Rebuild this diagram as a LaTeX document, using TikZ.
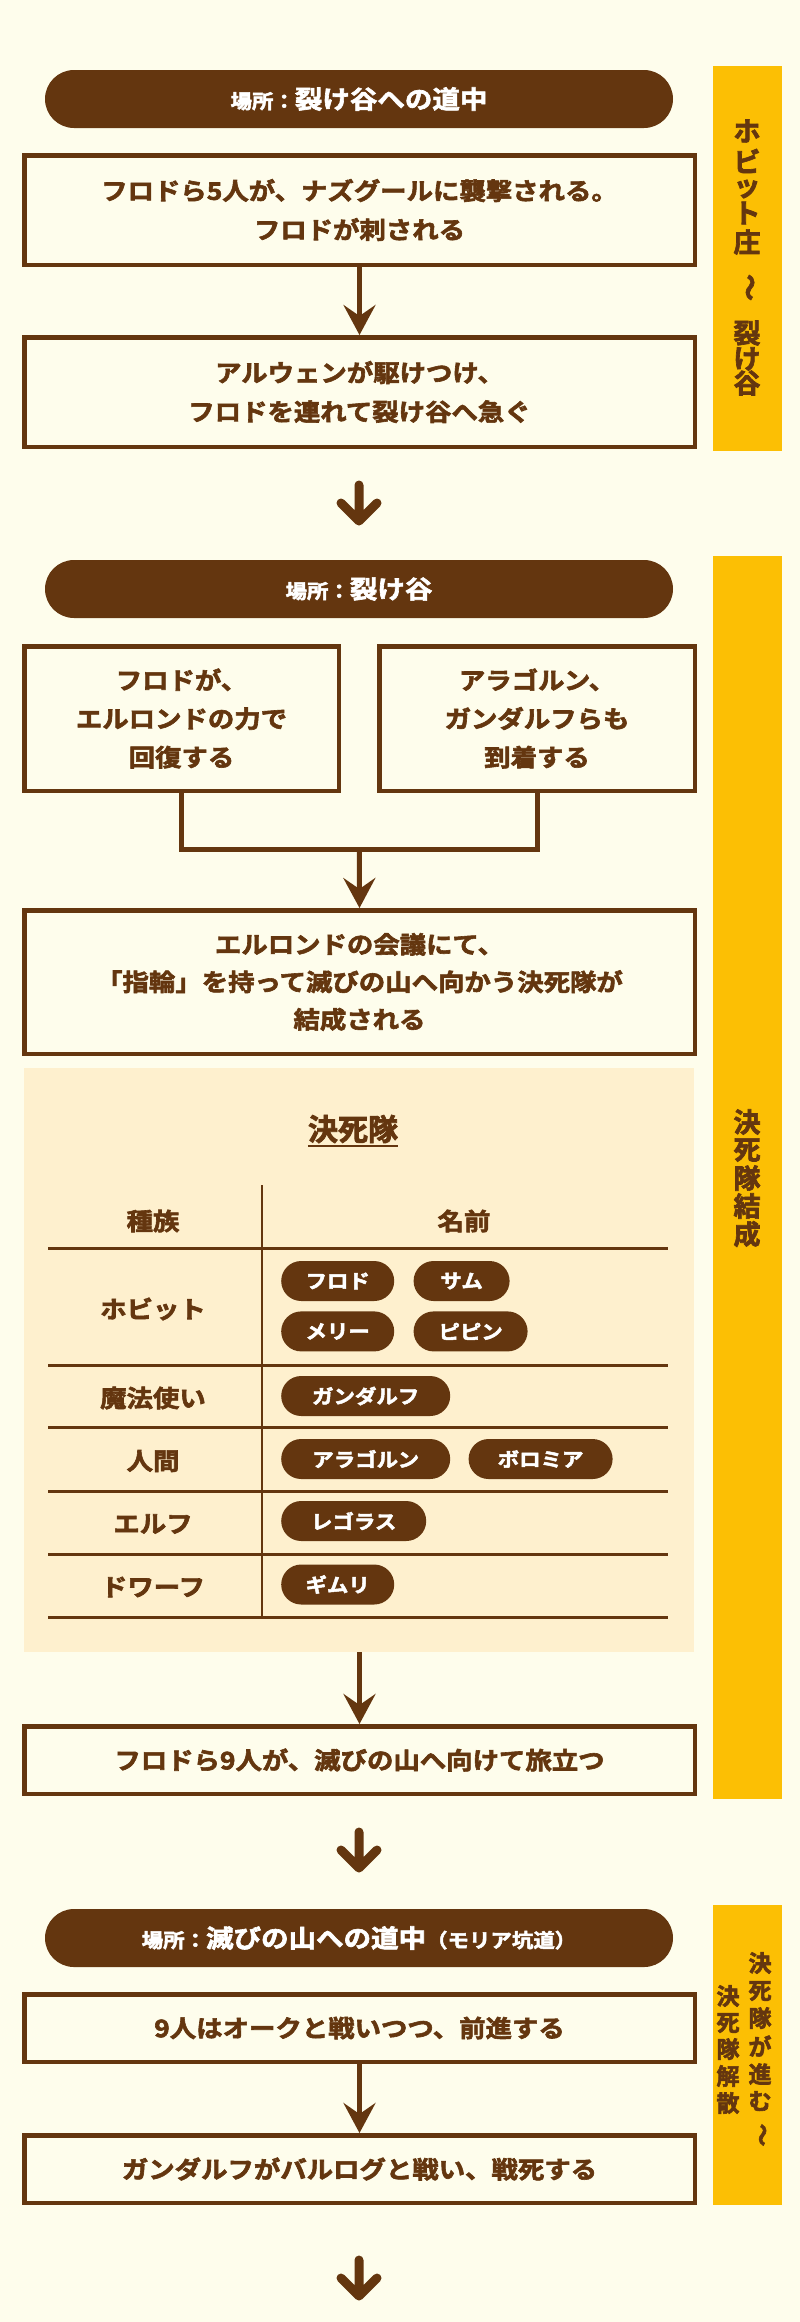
\documentclass[tikz,border=0pt]{standalone}
\usepackage{fontspec}
\usetikzlibrary{positioning}
\usetikzlibrary{arrows.meta}
\setmainfont{Noto Sans CJK JP Bold}[FakeStretch=1.1, FakeBold=2.5]
\newfontfamily\uprightjp{Noto Sans CJK JP Bold}[FakeBold=2.5]
\definecolor{bgcream}{HTML}{FEFDEC}
\definecolor{bark}{HTML}{64360F}
\definecolor{gold}{HTML}{FCBF04}
\definecolor{peach}{HTML}{FEF0CE}
\newcommand{\fsz}[2]{\fontsize{#1}{#2}\selectfont}

\begin{document}
\begin{tikzpicture}[x=1pt, y=-1pt,
  event/.style={draw=bark, line width=4.5pt, fill=bgcream, text=bark, align=center, inner sep=0pt, font=\fsz{24}{39}},
  place/.style={fill=bark, text=white, rounded corners=29pt, minimum width=628pt, minimum height=58pt, inner sep=0pt},
  flow/.style={draw=bark, line width=5pt, -{Stealth[length=30pt, width=32pt, inset=11pt]}},
  elbow/.style={draw=bark, line width=5pt},
  nextmark/.style={draw=bark, line width=9pt, line cap=round, line join=round},
  band/.style={fill=gold},
  bandchar/.style={text=bark, inner sep=0pt, font=\uprightjp\fsz{27}{27}},
  smallchar/.style={text=bark, inner sep=0pt, font=\uprightjp\fsz{23}{23}},
  race/.style={text=bark, inner sep=0pt, font=\fsz{24}{24}},
  member/.style={fill=bark, text=white, rounded corners=20pt, minimum height=40pt, minimum width=#1, inner sep=0pt, font=\fsz{19.5}{19.5}},
  rowrule/.style={draw=bark, line width=3pt},
  colrule/.style={draw=bark, line width=2.5pt}]

\useasboundingbox (0,0) rectangle (800,2322);
\fill[bgcream] (0,0) rectangle (800,2322);

% side bands
\fill[band] (713,66) rectangle (782,451);
\fill[band] (713,556) rectangle (782,1799);
\fill[band] (713,1905) rectangle (782,2205);

\foreach \c/\y [count=\i] in {ホ/131, ビ/161, ッ/189, ト/213, 庄/242, 裂/333, け/359, 谷/383}
  \node[bandchar] (hb\i) at (747,\y) {\c};
\node[bandchar, rotate=-90] (hbwave) at (747,287.5) {〜};

\foreach \c/\y [count=\i] in {決/1122, 死/1150, 隊/1178, 結/1206, 成/1234}
  \node[bandchar] (fm\i) at (747,\y) {\c};

\foreach \c/\y [count=\i] in {決/1963, 死/1991, 隊/2018, が/2046, 進/2074, む/2101}
  \node[smallchar] (go\i) at (760,\y) {\c};
\node[smallchar, rotate=-90] (gowave) at (760,2135) {〜};
\foreach \c/\y [count=\i] in {決/1996, 死/2023, 隊/2049, 解/2076, 散/2103}
  \node[smallchar] (ds\i) at (728,\y) {\c};

% section 1
\node[place] (place1) at (359,99) {{\fsz{19.5}{19.5}場所：}{\fsz{25}{25}裂け谷への道中}};
\node[event, minimum width=670.5pt, minimum height=109.5pt] (attack) at (359.5,210)
  {フロドら5人が、ナズグールに襲撃される。\\フロドが刺される};
\node[event, minimum width=670.5pt, minimum height=109.5pt] (arwen) at (359.5,392)
  {アルウェンが駆けつけ、\\フロドを連れて裂け谷へ急ぐ};
\draw[flow] (attack) -- (arwen);

\coordinate (next1) at (359,485);
\draw[nextmark] (next1) -- ++(0,36) ++(-18,-18) -- ++(18,18) -- ++(18,-18);

% section 2
\node[place] (place2) at (359,589) {{\fsz{19.5}{19.5}場所：}{\fsz{25}{25}裂け谷}};
\node[event, minimum width=314.5pt, minimum height=144.5pt, font=\fsz{24}{38.5}] (heal) at (181.5,718.5)
  {フロドが、\\エルロンドの力で\\回復する};
\node[event, minimum width=315.5pt, minimum height=144.5pt, font=\fsz{24}{38.5}] (arrive) at (537,718.5)
  {アラゴルン、\\ガンダルフらも\\到着する};
\node[event, minimum width=670.5pt, minimum height=143.5pt, font=\fsz{24}{37.5}] (council) at (359.5,982)
  {エルロンドの会議にて、\\「指輪」を持って滅びの山へ向かう決死隊が\\結成される};
\coordinate (merge) at (359.25,849.5);
\draw[elbow] (heal.south) |- (merge) -| (arrive.south);
\draw[flow] (merge) -- (council.north);

% table of the fellowship
\fill[peach] (24,1068) rectangle (694,1652);
\node[text=bark, inner sep=0pt, font=\uprightjp\fsz{30}{30}] (squad) at (353,1129) {決死隊};
\draw[bark, line width=2pt] ([yshift=-2.5pt]squad.south west) -- ([yshift=-2.5pt]squad.south east);

\draw[colrule] (262,1185) -- (262,1617);
\foreach \y in {1248,1365,1427,1491,1554,1617}
  \draw[rowrule] (48,\y) -- (668,\y);

\node[race] (kind) at (153,1221) {種族};
\node[race] (names) at (464,1221) {名前};
\node[race] (hobbit) at (153,1309) {ホビット};
\node[race] (wizard) at (153,1398) {魔法使い};
\node[race] (human) at (153,1461) {人間};
\node[race] (elf) at (153,1524) {エルフ};
\node[race] (dwarf) at (153,1587) {ドワーフ};

\node[member=113pt, anchor=west] (frodo) at (281,1281) {フロド};
\node[member=96pt, right=19pt of frodo] (sam) {サム};
\node[member=113pt, below=10pt of frodo] (merry) {メリー};
\node[member=114pt, right=19pt of merry] (pippin) {ピピン};
\node[member=169pt, anchor=west] (gandalf) at (281,1396) {ガンダルフ};
\node[member=169pt, anchor=west] (aragorn) at (281,1459) {アラゴルン};
\node[member=144pt, right=18pt of aragorn] (boromir) {ボロミア};
\node[member=145pt, anchor=west] (legolas) at (281,1521) {レゴラス};
\node[member=113pt, anchor=west] (gimli) at (281,1584.5) {ギムリ};

\node[event, minimum width=670.5pt, minimum height=67.5pt] (depart) at (359.5,1760)
  {フロドら9人が、滅びの山へ向けて旅立つ};
\coordinate (panelfoot) at (359.5,1652);
\draw[flow] (panelfoot) -- (depart.north);

\coordinate (next2) at (359,1832);
\draw[nextmark] (next2) -- ++(0,36) ++(-18,-18) -- ++(18,18) -- ++(18,-18);

% section 3
\node[place] (place3) at (359,1938) {{\fsz{19.5}{19.5}場所：}{\fsz{25}{25}滅びの山への道中}{\fsz{19.5}{19.5}（モリア坑道）}};
\node[event, minimum width=670.5pt, minimum height=67.5pt] (orcs) at (359.5,2028)
  {9人はオークと戦いつつ、前進する};
\node[event, minimum width=670.5pt, minimum height=67.5pt] (balrog) at (359.5,2169)
  {ガンダルフがバルログと戦い、戦死する};
\draw[flow] (orcs) -- (balrog);

\coordinate (next3) at (359,2260);
\draw[nextmark] (next3) -- ++(0,36) ++(-18,-18) -- ++(18,18) -- ++(18,-18);

\end{tikzpicture}
\end{document}
